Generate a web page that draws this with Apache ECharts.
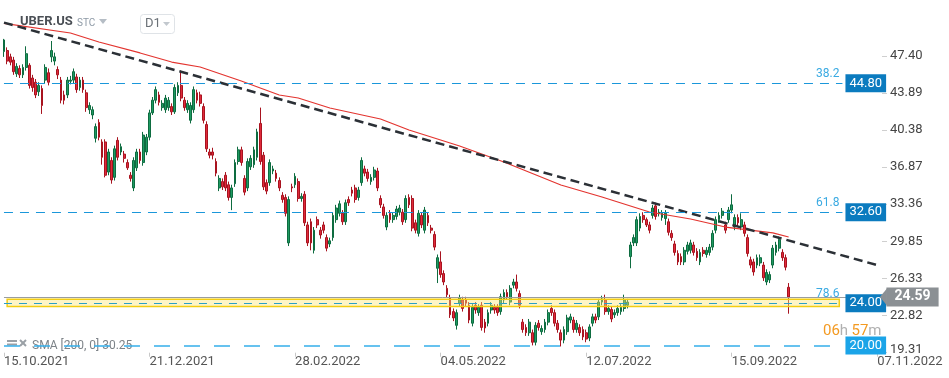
<!DOCTYPE html>
<html><head><meta charset="utf-8">
<script src="https://cdn.jsdelivr.net/npm/echarts@6/dist/echarts.min.js"></script>
<style>html,body{margin:0;padding:0;background:#fff}#c{width:949px;height:378px}</style>
</head><body><div id="c"></div>
<script>
// ---- data (daily candles, 15.10.2021 .. 11.10.2022) ----
const opens = [47.8,47.9,47.3,47.0,45.7,46.2,45.6,46.3,46.5,45.3,44.9,44.0,44.3,45.1,45.8,47.3,46.9,46.1,45.1,43.7,
43.7,45.0,45.1,45.4,44.4,45.1,43.9,42.3,41.8,39.6,41.1,39.25,39.25,36.4,37.5,35.9,39.4,38.3,38.1,37.3,
36.1,34.9,36.8,38.3,37.3,38.3,39.7,42.0,43.2,43.7,42.5,42.3,42.5,42.6,42.1,43.9,44.6,43.2,42.3,41.3,
42.3,43.9,43.7,42.6,40.9,38.3,38.3,37.4,34.9,35.5,36.1,35.2,34.0,35.3,37.4,38.5,35.8,34.9,36.9,37.1,
37.8,41.0,38.0,35.4,35.4,36.5,36.3,35.6,34.2,34.0,29.7,35.0,35.2,35.5,33.9,34.3,31.4,31.7,29.0,31.9,
30.9,31.4,30.2,29.6,30.2,31.9,32.5,32.5,31.7,33.8,34.7,34.9,34.0,35.4,36.7,36.4,35.5,35.9,36.5,33.9,
33.1,31.2,32.5,31.9,32.2,32.6,32.6,31.9,34.0,33.9,31.6,30.6,32.3,30.9,32.3,31.1,30.5,27.3,27.9,26.8,
25.4,24.5,23.2,21.9,24.0,24.3,24.3,23.8,22.1,23.8,23.1,23.8,22.2,22.1,23.35,23.6,23.6,23.2,24.3,25.0,
24.1,25.7,26.0,24.9,22.2,21.7,21.2,21.2,20.3,22.1,21.3,21.5,22.2,23.5,23.1,22.1,21.2,20.5,21.3,22.4,
22.4,21.5,21.7,21.5,21.2,20.7,22.1,22.7,22.7,24.1,24.3,23.2,23.4,22.9,23.1,23.2,23.5,23.8,28.4,29.7,
29.7,31.1,32.3,31.9,31.4,32.3,33.2,32.5,32.1,32.0,31.7,30.6,29.6,28.7,28.4,27.9,28.9,29.0,29.5,28.9,
27.9,29.0,28.6,28.8,29.3,30.9,31.9,32.3,31.4,31.9,32.8,31.2,32.1,31.2,31.4,30.2,28.1,27.9,27.6,27.8,
27.6,26.0,26.2,27.6,28.8,29.2,28.8,28.3,25.5];
const closes = [48.9,46.9,46.8,45.9,46.4,45.6,46.3,47.6,44.6,44.4,43.7,44.6,42.7,46.3,44.9,47.9,47.3,45.6,43.2,43.2,
45.1,45.1,45.9,44.2,45.1,44.2,42.5,42.7,42.3,40.7,39.7,37.8,36.1,38.3,35.65,38.6,37.8,38.8,37.7,36.8,
35.8,37.5,38.3,37.5,39.9,39.7,42.0,43.2,44.2,43.0,42.9,43.4,43.2,42.1,44.4,44.6,43.4,42.5,42.9,42.7,
44.2,43.2,42.9,41.3,38.6,38.0,38.0,36.3,35.8,35.0,34.9,34.0,34.9,37.3,38.5,37.3,34.5,37.4,37.7,38.5,
40.2,37.4,35.0,34.6,37.3,36.7,35.8,34.9,33.8,32.5,33.8,34.9,36.0,33.9,34.1,31.6,29.7,29.7,30.9,31.4,
30.45,30.9,29.2,29.9,32.3,33.0,33.4,31.7,33.5,33.5,34.4,33.8,34.7,37.5,36.3,35.8,35.9,36.6,34.9,33.3,
32.3,32.3,31.9,32.3,32.9,33.0,31.7,33.9,33.3,31.1,30.9,32.5,31.4,32.8,31.6,30.9,29.3,28.3,26.7,26.0,
24.8,22.9,22.6,23.1,24.5,23.5,24.0,22.4,23.6,23.35,23.6,21.7,21.65,23.1,23.8,23.35,23.1,24.6,25.0,24.6,
25.4,26.0,25.4,23.8,21.5,21.2,22.2,20.3,21.9,21.7,21.6,22.2,23.1,23.1,22.1,21.5,20.5,21.5,22.6,22.7,
21.5,22.1,21.2,20.8,20.6,21.75,22.7,22.4,24.1,24.4,23.2,23.5,22.5,23.1,23.5,23.6,24.3,24.1,29.5,30.2,
31.9,32.2,31.9,31.4,30.9,33.0,32.2,32.6,32.5,32.5,30.7,30.2,28.8,27.9,27.9,29.0,29.5,29.7,28.8,28.3,
28.8,28.7,29.0,29.3,30.6,31.9,32.3,32.7,30.9,32.8,33.3,32.1,31.6,31.9,30.6,28.7,27.6,26.95,28.3,28.3,
26.4,26.9,26.7,29.2,29.5,30.0,28.3,27.4,24.59];
const lows = [47.3,46.6,46.5,45.6,45.4,45.3,45.3,46.0,44.3,44.0,43.4,43.6,41.9,44.8,44.6,46.8,46.5,45.2,42.9,42.8,
43.4,44.7,44.8,43.9,44.1,43.9,42.1,41.9,41.4,39.2,39.4,37.1,35.9,36.1,35.3,35.6,37.5,38.0,37.3,36.6,
35.5,34.6,36.5,37.2,37.0,38.0,39.4,41.8,42.9,42.7,42.2,42.0,42.2,41.8,41.9,43.6,43.1,42.2,42.0,41.0,
42.0,42.9,42.6,41.0,38.3,37.7,37.6,36.0,34.6,34.7,34.6,33.7,32.8,35.0,37.1,37.0,34.2,34.6,36.6,36.8,
37.5,37.1,34.7,34.3,35.1,36.2,35.5,34.6,33.5,32.2,29.4,34.5,34.9,33.6,33.6,31.3,29.4,29.0,28.7,31.1,
30.1,30.6,28.9,29.3,29.9,31.6,32.2,31.4,31.4,33.2,34.1,33.5,33.7,35.1,36.0,35.5,35.2,35.6,34.6,33.0,
32.0,30.9,31.6,31.6,31.9,32.3,31.4,31.6,33.0,30.8,30.6,30.3,31.1,30.6,31.3,30.6,29.0,25.9,26.4,25.7,
24.5,22.6,22.3,21.5,23.7,23.2,23.7,22.1,21.8,23.0,22.8,21.4,21.2,21.8,23.0,23.0,22.8,22.9,24.0,24.3,
23.8,25.4,25.1,23.5,21.2,20.9,20.9,20.0,20.0,21.4,21.0,21.2,21.9,22.8,21.8,21.2,19.9,20.2,21.0,22.1,
21.2,21.2,20.9,20.5,20.3,20.4,21.8,22.1,22.4,23.8,22.9,22.9,22.2,22.6,22.8,22.9,23.2,23.5,27.3,29.4,
29.4,30.8,31.6,31.2,30.6,32.0,31.9,32.2,31.8,31.4,30.4,29.9,28.5,27.6,27.6,27.6,28.6,28.7,28.5,28.0,
27.6,28.4,28.3,28.5,29.0,30.6,31.6,32.0,30.6,31.6,32.5,30.9,31.3,30.9,30.3,28.4,27.3,26.6,27.3,27.5,
26.1,25.7,25.9,27.3,28.5,28.9,28.0,27.1,23.0];
const highs = [49.0,48.2,47.6,47.3,46.7,46.5,46.6,48.3,46.7,45.6,45.2,44.9,44.6,46.6,46.2,48.8,47.7,46.4,45.4,44.1,
45.4,45.5,46.2,45.7,45.4,45.4,44.2,43.0,42.6,41.0,41.4,39.5,39.5,38.6,37.8,38.9,39.7,39.1,38.4,37.6,
36.4,37.8,38.6,38.6,40.2,40.0,42.3,43.5,44.5,44.0,43.2,43.7,43.5,42.9,44.7,44.9,46.0,43.5,43.2,43.0,
44.5,44.2,44.0,42.9,41.2,38.6,38.7,37.7,36.1,35.8,36.4,35.5,35.2,37.6,38.8,38.8,36.1,37.7,38.0,38.8,
40.5,42.5,38.3,35.7,37.6,37.0,36.6,35.9,34.5,34.3,34.1,35.3,36.3,35.8,34.4,34.6,31.7,32.0,31.2,32.2,
31.2,31.7,30.5,30.2,32.6,33.3,33.7,32.8,33.8,34.1,35.0,35.2,35.0,37.8,37.0,36.7,36.2,36.9,36.8,34.2,
33.4,32.6,32.8,32.6,33.2,33.3,32.9,34.2,34.3,34.2,31.9,32.8,32.6,33.1,32.6,31.4,30.8,28.6,28.9,27.1,
25.7,24.8,23.5,23.4,24.8,24.6,24.6,24.1,23.9,24.1,23.9,24.1,22.5,23.4,24.1,23.9,23.9,24.9,25.3,25.3,
25.7,26.3,26.7,25.2,22.5,22.0,22.5,21.5,22.2,22.4,21.9,22.5,23.4,23.8,23.4,22.4,21.5,21.8,22.9,23.0,
22.7,22.4,22.0,21.8,21.5,22.0,23.0,23.0,24.4,24.7,24.8,23.8,23.7,23.4,23.8,23.9,24.8,24.4,29.8,30.5,
32.2,32.5,32.6,32.1,31.7,33.3,33.5,32.9,32.8,32.8,32.0,30.9,29.9,29.0,28.7,29.3,29.8,30.0,29.8,29.2,
29.1,29.3,29.3,29.6,30.9,32.2,32.6,33.0,31.7,33.1,34.3,32.4,32.4,32.5,31.7,30.5,28.4,28.2,28.6,28.6,
27.9,27.2,27.0,29.5,29.8,30.3,29.1,28.6,25.9];
// SMA(200) line read at sample points (candle index -> value)
const smaIndex = [0,21,30,43,53,62,75,87,93,103,119,128,144,158,176,189,204,217,228,243,248];
const smaValue = [50.46,49.56,48.71,47.67,46.81,46.34,45.02,43.69,43.41,42.46,41.42,40.38,38.87,37.35,35.18,34.04,32.62,31.96,31.2,30.64,30.26];
const smaLast = '30.25';
const xTickLabels = ['15.10.2021','21.12.2021','28.02.2022','04.05.2022','12.07.2022','15.09.2022','07.11.2022'];
const yTickValues = [19.31,22.82,26.33,29.85,33.36,36.87,40.38,43.89,47.40];
const fibLevels = [44.80, 32.60, 24.00];
const fibRatios = ['38.2','61.8','78.6'];
const supportLevel = 20.00;
const zoneBounds = [24.37, 23.67];
const lastPrice = 24.59;
const trendStart = [0, 50.54];
const trendEnd = [277, 27.51];

// ---- categories: trading days, then calendar days for the empty future area ----
const holidays = ['2021-11-25','2021-12-24','2022-01-17','2022-02-21','2022-04-15','2022-05-30','2022-06-20','2022-07-04','2022-09-05'];
const totalSlots = 278;
const cats = [];
(function(){
  let d = new Date(Date.UTC(2021,9,15));
  const fmt = dt => String(dt.getUTCDate()).padStart(2,'0')+'.'+String(dt.getUTCMonth()+1).padStart(2,'0')+'.'+dt.getUTCFullYear();
  while (cats.length < opens.length) {
    const iso = d.toISOString().slice(0,10), wd = d.getUTCDay();
    if (wd !== 0 && wd !== 6 && holidays.indexOf(iso) < 0) cats.push(fmt(d));
    d = new Date(d.getTime() + 86400000);
  }
  while (cats.length < totalSlots) { cats.push(fmt(d)); d = new Date(d.getTime() + 86400000); }
})();

const candles = opens.map((o,i)=>[o, closes[i], lows[i], highs[i]]);
const smaData = new Array(opens.length).fill(null);
smaIndex.forEach((k,j)=>{ smaData[k] = smaValue[j]; });

const lineEnd = 265, zoneStart = 1, zoneEnd = 264;
const boxDark = '#0b7bbf', fibColor = '#1b97da';
const levelLines = [], ratioLines = [];
fibLevels.forEach((lv, j) => {
  levelLines.push([{coord:[0, lv]}, {coord:[lineEnd, lv],
    lineStyle: j === 2 ? {color:'#2a9fc6', type:[8,7], width:1} : {color:fibColor, type:[9,7], width:1},
    label:{show:true, position:'end', distance:3, formatter: lv.toFixed(2), color:'#fff', backgroundColor: boxDark,
      padding:[3,4,2,4], fontSize:13, fontFamily:'Roboto'}}]);
  ratioLines.push([{coord:[0, lv]}, {coord:[lineEnd, lv],
    label:{show:true, position:'insideEndTop', distance:3, formatter: fibRatios[j], color:'#3aaae2', fontSize:12, fontFamily:'Roboto'}}]);
});
levelLines.push([{coord:[0, supportLevel]}, {coord:[lineEnd, supportLevel],
  lineStyle:{color:'#35aeea', type:[16,14], width:1.5},
  label:{show:true, position:'end', distance:3, formatter: supportLevel.toFixed(2), color:'#fff', backgroundColor:'#1ba4e8',
    padding:[3,4,2,4], fontSize:13, fontFamily:'Roboto'}}]);
levelLines.push([{coord:[0, lastPrice]}, {coord:[totalSlots-1, lastPrice],
  lineStyle:{color:'#9a9da0', type:'solid', width:1},
  label:{show:true, position:'end', distance:6, formatter: lastPrice.toFixed(2), color:'#fff', backgroundColor:'#8b9094',
    padding:[3,8,2,8], fontSize:14, fontWeight:'bold', fontFamily:'Roboto'}}]);

const chart = echarts.init(document.getElementById('c'), null, {renderer:'canvas'});
chart.setOption({
  animation:false,
  backgroundColor:'#fff',
  grid:{left:2.4, right:67, top:0, bottom:25.3},
  xAxis:{type:'category', data:cats, boundaryGap:true,
    axisLine:{show:false},
    axisTick:{show:true, interval:45, alignWithLabel:true, length:4, lineStyle:{color:'#c8c8c8'}},
    axisLabel:{interval:45, align:'left', margin:3, color:'#555', fontSize:13, fontFamily:'Roboto',
      formatter:(v,i)=> (i % 46 === 0 && xTickLabels[i/46]) ? xTickLabels[i/46] : ''},
    splitLine:{show:false}},
  yAxis:{type:'value', position:'right', min:19.31, max:52.68, scale:true,
    axisLine:{show:false}, splitLine:{show:false},
    axisTick:{show:true, length:5, lineStyle:{color:'#cfcfcf'}, customValues:yTickValues},
    axisLabel:{customValues:yTickValues, color:'#444', fontSize:13, margin:8, fontFamily:'Roboto',
      formatter:v=> v === yTickValues[0] ? '{low|'+v.toFixed(2)+'}' : v.toFixed(2),
      rich:{low:{color:'#444', fontSize:13, fontFamily:'Roboto', padding:[0,0,6,0]}}}},
  series:[
    {type:'candlestick', name:'UBER.US', data:candles, z:2, barWidth:'72%',
      itemStyle:{color:'#1e9a62', color0:'#e02a3b', borderColor:'#0e6c40', borderColor0:'#a8131f', borderWidth:1}},
    {type:'line', name:'SMA', data:smaData, connectNulls:true, symbol:'none', z:3,
      lineStyle:{color:'#e3342f', width:1.2}},
    {type:'line', name:'trend', data:[trendStart, trendEnd], symbol:'none', z:4,
      lineStyle:{color:'#2b3036', width:2.5, type:[9,5]}},
    {type:'line', name:'levels', data:[], z:5,
      markArea:{silent:true, z:3, itemStyle:{color:'rgba(252,230,120,0.42)', borderColor:'#f3cd12', borderWidth:1.5},
        data:[[{coord:[zoneStart, zoneBounds[0]]},{coord:[zoneEnd, zoneBounds[1]]}]]},
      markLine:{silent:true, symbol:['none','none'], z:5, data:levelLines},
      markPoint:{silent:true, symbol:'triangle', symbolRotate:90, symbolSize:[17,7], symbolOffset:[3,0], z:6,
        itemStyle:{color:'#8b9094'}, label:{show:false}, data:[{coord:[totalSlots-1, lastPrice]}]}},
    {type:'line', name:'ratios', data:[], z:5,
      markLine:{silent:true, symbol:['none','none'], z:5, lineStyle:{color:'rgba(0,0,0,0)', width:0}, data:ratioLines}}
  ],
  graphic:[
    {type:'text', left:20, top:15, style:{text:'UBER.US', font:'bold 13px Roboto', fill:'#4a4f55'}},
    {type:'text', left:77, top:18, style:{text:'STC', font:'10px Roboto', fill:'#8e9aa6'}},
    {type:'polygon', shape:{points:[[99,19],[107,19],[103,24]]}, style:{fill:'#b5bdc5'}},
    {type:'rect', shape:{x:140.5, y:14.5, width:34, height:19, r:3}, style:{fill:'#fff', stroke:'#dfe3e7', lineWidth:1}},
    {type:'text', left:145, top:17, style:{text:'D1', font:'13px Roboto', fill:'#6b7177'}},
    {type:'polygon', shape:{points:[[163,22],[170,22],[166.5,26]]}, style:{fill:'#c2c8ce'}},
    {type:'text', left:823, top:324, style:{rich:{o:{fill:'#f39a22', font:'15px Roboto'}, g:{fill:'#b0b0b0', font:'15px Roboto'}},
      text:'{o|06}{g|h} {o|57}{g|m}'}},
    {type:'rect', shape:{x:7, y:340, width:10, height:2}, style:{fill:'#9aa0a6'}},
    {type:'rect', shape:{x:7, y:343.5, width:10, height:2}, style:{fill:'#9aa0a6'}},
    {type:'line', shape:{x1:20, y1:340, x2:26, y2:346}, style:{stroke:'#9aa0a6', lineWidth:2}},
    {type:'line', shape:{x1:26, y1:340, x2:20, y2:346}, style:{stroke:'#9aa0a6', lineWidth:2}},
    {type:'text', left:32, top:340, style:{text:'SMA [200, 0] '+smaLast, font:'12px Roboto', fill:'#7d8388'}}
  ]
});
</script></body></html>
